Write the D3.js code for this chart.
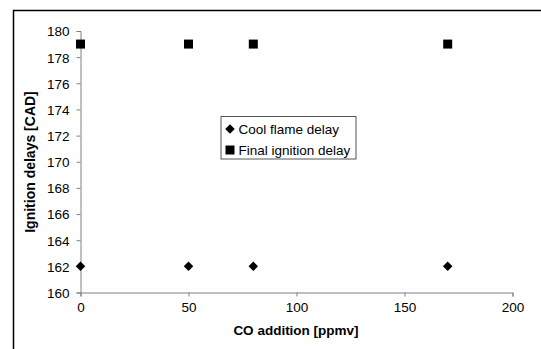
<!DOCTYPE html>
<html><head><meta charset="utf-8">
<script src="https://d3js.org/d3.v7.min.js"></script>
<style>body{margin:0;background:#fff}svg{display:block}</style>
</head><body>
<script>
const coAddition = [0, 50, 80, 170];
const coolFlameDelay = [162, 162, 162, 162];
const finalIgnitionDelay = [179, 179, 179, 179];
const xTicks = [0, 50, 100, 150, 200];
const yTicks = [160, 162, 164, 166, 168, 170, 172, 174, 176, 178, 180];
const seriesNames = ["Cool flame delay", "Final ignition delay"];

const W = 541, H = 349;
const svg = d3.select("body").append("svg").attr("width", W).attr("height", H);
const font = "'Liberation Sans', Arial, sans-serif";

// outer frame (partial)
svg.append("path").attr("d", `M13.5,${H} V10.5 H${W}`).attr("fill","none").attr("stroke","#000").attr("stroke-width",1.5);

const x = d3.scaleLinear().domain([0, 200]).range([80.5, 512.5]);
const y = d3.scaleLinear().domain([160, 180]).range([292.5, 31]);

const xAxis = svg.append("g").attr("transform", "translate(0,292.5)")
  .call(d3.axisBottom(x).tickValues(xTicks).tickSize(4).tickPadding(6).tickFormat(d3.format("d")));
const yAxis = svg.append("g").attr("transform", "translate(80.5,0)")
  .call(d3.axisLeft(y).tickValues(yTicks).tickSize(4).tickPadding(7).tickFormat(d3.format("d")));
[xAxis, yAxis].forEach(a => {
  a.select(".domain").attr("stroke", "#808080");
  a.selectAll(".tick line").attr("stroke", "#808080");
  a.selectAll("text").attr("font-family", font).attr("font-size", "13.5px").attr("fill", "#000");
});
yAxis.selectAll("text").attr("dy", "0.36em");

svg.append("text").attr("x", 296).attr("y", 335).attr("text-anchor","middle")
  .attr("font-family", font).attr("font-weight","bold").attr("font-size","13.5px").text("CO addition [ppmv]");
svg.append("text").attr("transform","translate(35,162) rotate(-90)").attr("text-anchor","middle")
  .attr("font-family", font).attr("font-weight","bold").attr("font-size","14px").text("Ignition delays [CAD]");

const diamond = d3.symbol().type(d3.symbolSquare).size(45);
const square = d3.symbol().type(d3.symbolSquare).size(81);

svg.append("g").selectAll("path").data(coAddition).join("path")
  .attr("d", diamond).attr("fill","#000")
  .attr("transform", (d,i) => `translate(${x(d)},${y(coolFlameDelay[i])}) rotate(45)`);
svg.append("g").selectAll("path").data(coAddition).join("path")
  .attr("d", square).attr("fill","#000")
  .attr("transform", (d,i) => `translate(${x(d)},${y(finalIgnitionDelay[i])})`);

// legend
const lg = svg.append("g");
lg.append("rect").attr("x",221).attr("y",116.5).attr("width",135).attr("height",42.5)
  .attr("fill","#fff").attr("stroke","#555").attr("stroke-width",1);
lg.append("path").attr("d", diamond).attr("fill","#000").attr("transform","translate(230,129) rotate(45)");
lg.append("path").attr("d", square).attr("fill","#000").attr("transform","translate(230,150)");
lg.append("text").attr("x",238.5).attr("y",133.5).attr("font-family",font).attr("font-size","13.5px").text(seriesNames[0]);
lg.append("text").attr("x",238.5).attr("y",154.5).attr("font-family",font).attr("font-size","13.5px").text(seriesNames[1]);
</script>
</body></html>
